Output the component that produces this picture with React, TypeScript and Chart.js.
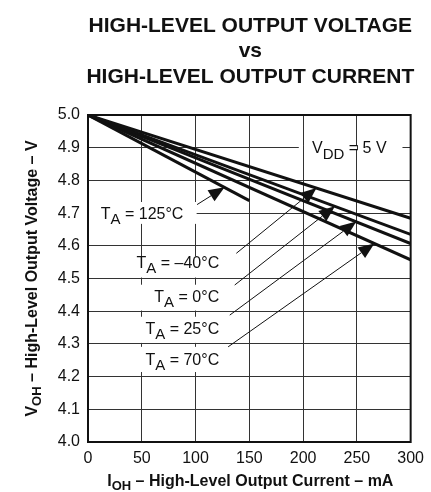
import React, { useEffect, useRef } from "react";
import { Chart, registerables } from "chart.js";

Chart.register(...registerables);

const FONT = '"Liberation Sans", Arial, Helvetica, sans-serif';
const INK = "#111111";
const GRID = "#333333";

// ---------- data ----------
const titleLines = ["HIGH-LEVEL OUTPUT VOLTAGE", "vs", "HIGH-LEVEL OUTPUT CURRENT"];
const xTickValues = [0, 50, 100, 150, 200, 250, 300];
const yTickValues = [4.0, 4.1, 4.2, 4.3, 4.4, 4.5, 4.6, 4.7, 4.8, 4.9, 5.0];

const iohM40 = [0, 300];
const vohM40 = [5.0, 4.684];
const ioh0 = [0, 300];
const voh0 = [5.0, 4.635];
const ioh25 = [0, 300];
const voh25 = [5.0, 4.607];
const ioh70 = [0, 300];
const voh70 = [5.0, 4.557];
const ioh125 = [0, 150];
const voh125 = [5.0, 4.738];

type Seg = { t: string; sub?: boolean };
const xTitle: Seg[] = [{ t: "I" }, { t: "OH", sub: true }, { t: " – High-Level Output Current – mA" }];
const yTitle: Seg[] = [{ t: "V" }, { t: "OH", sub: true }, { t: " – High-Level Output Voltage – V" }];
const vddLabel: Seg[] = [{ t: "V" }, { t: "DD", sub: true }, { t: " = 5 V" }];
const vddPos = { leftX: 208.3, baseY: 4.883, gap: [196, 292.4, 4.9] };

// callouts: label anchor (right edge / baseline), white box, leader start, arrow tip (data units)
const tempCallouts = [
  { temp: "125", rightX: 88.7, baseY: 4.681, box: [0, 101, 4.734, 4.667], from: [101.4, 4.726], tip: [127, 4.779] },
  { temp: "–40", rightX: 122, baseY: 4.531, box: [30, 129, 4.567, 4.503], from: [137.9, 4.577], tip: [212.5, 4.777] },
  { temp: "0", rightX: 122, baseY: 4.429, box: [30, 129, 4.481, 4.402], from: [136.4, 4.48], tip: [229.6, 4.721] },
  { temp: "25", rightX: 122, baseY: 4.33, box: [30, 129, 4.383, 4.303], from: [131.8, 4.388], tip: [249.5, 4.674] },
  { temp: "70", rightX: 122, baseY: 4.235, box: [30, 129, 4.291, 4.214], from: [130.3, 4.291], tip: [266.3, 4.607] },
];

function pts(xs: number[], ys: number[]) {
  return xs.map((x, i) => ({ x, y: ys[i] }));
}

function drawRich(
  ctx: CanvasRenderingContext2D,
  segs: Seg[],
  x: number,
  y: number,
  align: "left" | "right" | "center",
  mainFont: string,
  subFont: string,
  subDy: number
) {
  ctx.textAlign = "left";
  ctx.textBaseline = "alphabetic";
  const widths = segs.map((s) => {
    ctx.font = s.sub ? subFont : mainFont;
    return ctx.measureText(s.t).width;
  });
  const total = widths.reduce((a, b) => a + b, 0);
  let cx = align === "left" ? x : align === "right" ? x - total : x - total / 2;
  segs.forEach((s, i) => {
    ctx.font = s.sub ? subFont : mainFont;
    ctx.fillText(s.t, cx, y + (s.sub ? subDy : 0));
    cx += widths[i];
  });
}

const decor = {
  id: "decor",
  beforeDatasetsDraw(chart: any) {
    const { ctx, scales } = chart;
    const xs = scales.x;
    const ys = scales.y;
    ctx.save();
    ctx.fillStyle = "#ffffff";
    for (const c of tempCallouts) {
      const [x1, x2, y1, y2] = c.box;
      const px1 = xs.getPixelForValue(x1) + 1;
      const px2 = xs.getPixelForValue(x2);
      const py1 = ys.getPixelForValue(y1);
      const py2 = ys.getPixelForValue(y2);
      ctx.fillRect(px1, py1, px2 - px1, py2 - py1);
    }
    // gap in the 4.9 grid line behind V_DD label
    const gx1 = xs.getPixelForValue(vddPos.gap[0]);
    const gx2 = xs.getPixelForValue(vddPos.gap[1]);
    const gy = ys.getPixelForValue(vddPos.gap[2]);
    ctx.fillRect(gx1, gy - 2, gx2 - gx1, 4);
    ctx.strokeStyle = GRID;
    ctx.lineWidth = 1;
    for (const v of xTickValues) {
      const px = xs.getPixelForValue(v);
      if (px > gx1 && px < gx2) {
        ctx.beginPath();
        ctx.moveTo(Math.round(px) + 0.5, gy - 2.5);
        ctx.lineTo(Math.round(px) + 0.5, gy + 2.5);
        ctx.stroke();
      }
    }
    ctx.restore();
  },
  afterDatasetsDraw(chart: any) {
    const { ctx, scales, chartArea } = chart;
    const xs = scales.x;
    const ys = scales.y;
    ctx.save();
    ctx.fillStyle = INK;
    const main = `16px ${FONT}`;
    const sub = `15px ${FONT}`;
    for (const c of tempCallouts) {
      drawRich(
        ctx,
        [{ t: "T" }, { t: "A", sub: true }, { t: ` = ${c.temp}°C` }],
        xs.getPixelForValue(c.rightX),
        ys.getPixelForValue(c.baseY),
        "right",
        main,
        sub,
        5
      );
      const fx = xs.getPixelForValue(c.from[0]);
      const fy = ys.getPixelForValue(c.from[1]);
      const tx = xs.getPixelForValue(c.tip[0]);
      const ty = ys.getPixelForValue(c.tip[1]);
      const dx = tx - fx;
      const dy = ty - fy;
      const len = Math.hypot(dx, dy);
      const ux = dx / len;
      const uy = dy / len;
      const L = 16;
      const W = 6.5;
      const bx = tx - ux * L;
      const by = ty - uy * L;
      ctx.strokeStyle = INK;
      ctx.lineWidth = 1;
      ctx.beginPath();
      ctx.moveTo(fx, fy);
      ctx.lineTo(bx, by);
      ctx.stroke();
      ctx.beginPath();
      ctx.moveTo(tx, ty);
      ctx.lineTo(bx - uy * W, by + ux * W);
      ctx.lineTo(bx + uy * W, by - ux * W);
      ctx.closePath();
      ctx.fill();
    }
    drawRich(
      ctx,
      vddLabel,
      xs.getPixelForValue(vddPos.leftX),
      ys.getPixelForValue(vddPos.baseY),
      "left",
      main,
      sub,
      6
    );
    // frame
    ctx.strokeStyle = INK;
    ctx.lineWidth = 2;
    ctx.strokeRect(chartArea.left, chartArea.top, chartArea.right - chartArea.left, chartArea.bottom - chartArea.top);
    ctx.restore();
  },
  afterDraw(chart: any) {
    const { ctx, chartArea } = chart;
    ctx.save();
    ctx.fillStyle = INK;
    ctx.textAlign = "center";
    ctx.textBaseline = "alphabetic";
    ctx.font = `bold 21px ${FONT}`;
    const cx = (chartArea.left + chartArea.right) / 2 + 1;
    const baselines = [31.7, 57, 83.3];
    titleLines.forEach((t, i) => ctx.fillText(t, cx, baselines[i]));
    const tMain = `bold 16px ${FONT}`;
    const tSub = `bold 13px ${FONT}`;
    drawRich(ctx, xTitle, cx, 486, "center", tMain, tSub, 4);
    ctx.translate(37, (chartArea.top + chartArea.bottom) / 2);
    ctx.rotate(-Math.PI / 2);
    drawRich(ctx, yTitle, 0, 0, "center", tMain, tSub, 4);
    ctx.restore();
  },
};

export default function App() {
  const ref = useRef<HTMLCanvasElement | null>(null);
  useEffect(() => {
    document.body.style.margin = "0";
    const canvas = ref.current;
    if (!canvas) return;
    const lineStyle = { borderColor: INK, borderWidth: 3, pointRadius: 0, fill: false, tension: 0 };
    const chart = new Chart(canvas, {
      type: "line",
      data: {
        datasets: [
          { label: "TA = –40°C", data: pts(iohM40, vohM40), ...lineStyle },
          { label: "TA = 0°C", data: pts(ioh0, voh0), ...lineStyle },
          { label: "TA = 25°C", data: pts(ioh25, voh25), ...lineStyle },
          { label: "TA = 70°C", data: pts(ioh70, voh70), ...lineStyle },
          { label: "TA = 125°C", data: pts(ioh125, voh125), ...lineStyle },
        ],
      },
      options: {
        animation: false,
        responsive: false,
        maintainAspectRatio: false,
        layout: { padding: { top: 115, right: 16, left: 0, bottom: 0 } },
        plugins: { legend: { display: false }, tooltip: { enabled: false }, title: { display: false } },
        scales: {
          x: {
            type: "linear",
            min: 0,
            max: 300,
            afterBuildTicks: (s: any) => {
              s.ticks = xTickValues.map((v) => ({ value: v }));
            },
            afterFit: (s: any) => {
              s.height = 50;
            },
            ticks: {
              color: INK,
              font: { family: FONT, size: 16 },
              padding: 7,
              maxRotation: 0,
              autoSkip: false,
              callback: (v: any) => String(v),
            },
            grid: { color: GRID, lineWidth: 1, drawTicks: false },
            border: { display: false },
          },
          y: {
            type: "linear",
            min: 4,
            max: 5,
            afterBuildTicks: (s: any) => {
              s.ticks = yTickValues.map((v) => ({ value: v }));
            },
            afterFit: (s: any) => {
              s.width = 88;
            },
            ticks: {
              color: INK,
              font: { family: FONT, size: 16 },
              padding: 8,
              autoSkip: false,
              callback: (v: any) => Number(v).toFixed(1),
            },
            grid: { color: GRID, lineWidth: 1, drawTicks: false },
            border: { display: false },
          },
        },
      },
      plugins: [decor],
    } as any);
    return () => chart.destroy();
  }, []);
  return (
    <div style={{ width: 431, height: 492, background: "#fff" }}>
      <canvas ref={ref} width={431} height={492} style={{ display: "block", width: 431, height: 492 }} />
    </div>
  );
}
